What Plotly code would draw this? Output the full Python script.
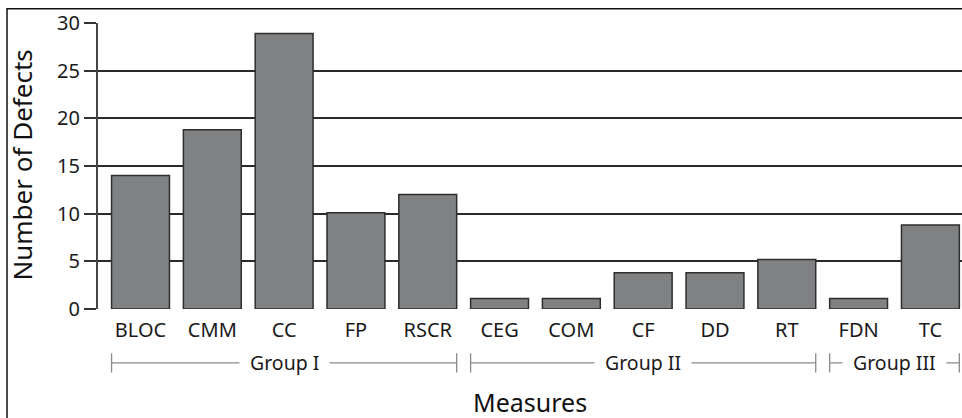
import plotly.graph_objects as go

# Defect counts per measure
measures = ["BLOC", "CMM", "CC", "FP", "RSCR", "CEG", "COM", "CF", "DD", "RT", "FDN", "TC"]
defects = [14.0, 18.8, 28.9, 10.1, 12.0, 1.1, 1.1, 3.8, 3.8, 5.2, 1.1, 8.8]

# Measure groups: (label, first index, last index)
group_names = ["Group I", "Group II", "Group III"]
group_first = [0, 5, 10]
group_last = [4, 9, 11]

y_ticks = [0, 5, 10, 15, 20, 25, 30]

FONT = "Noto Sans"
BAR_GAP = 0.194
half_bar = (1 - BAR_GAP) / 2

fig = go.Figure(
    go.Bar(
        x=list(range(len(measures))),
        y=defects,
        marker=dict(color="#808183", line=dict(color="#2e2e2e", width=1.5)),
        width=1 - BAR_GAP,
        hoverinfo="x+y",
    )
)

shapes = []
annotations = []

# Outer frame around the figure
shapes.append(dict(type="rect", xref="paper", yref="paper",
                   x0=-0.1053, x1=1.02, y0=-0.40, y1=1.05,
                   line=dict(color="#111111", width=1.5), fillcolor="rgba(0,0,0,0)",
                   layer="below"))

# Group brackets beneath the category labels
y_line = -0.1887
y_tick_top = -0.155
y_tick_bot = -0.222
bracket_color = "#8a8a8a"
for name, a, b in zip(group_names, group_first, group_last):
    xa = a - half_bar
    xb = b + half_bar
    shapes.append(dict(type="line", xref="x", yref="paper", x0=xa, x1=xb, y0=y_line, y1=y_line,
                       line=dict(color=bracket_color, width=1.3)))
    for xe in (xa, xb):
        shapes.append(dict(type="line", xref="x", yref="paper", x0=xe, x1=xe,
                           y0=y_tick_bot, y1=y_tick_top,
                           line=dict(color=bracket_color, width=1.3)))
    annotations.append(dict(x=(xa + xb) / 2, y=y_line, xref="x", yref="paper",
                            text=name, showarrow=False, bgcolor="white", borderpad=10,
                            font=dict(family=FONT, size=19.5, color="#1a1a1a"),
                            xanchor="center", yanchor="middle"))

# Axis titles
annotations.append(dict(x=0.5, y=-0.3267, xref="paper", yref="paper", text="Measures",
                        showarrow=False, font=dict(family=FONT, size=25, color="#111111"),
                        xanchor="center", yanchor="middle"))
annotations.append(dict(x=-0.088, y=0.505, xref="paper", yref="paper", text="Number of Defects",
                        showarrow=False, textangle=-90,
                        font=dict(family=FONT, size=26, color="#111111"),
                        xanchor="center", yanchor="middle"))

fig.update_layout(
    width=962, height=418,
    margin=dict(l=98, r=0, t=23, b=108.5),
    paper_bgcolor="white", plot_bgcolor="white",
    showlegend=False,
    bargap=BAR_GAP,
    shapes=shapes,
    annotations=annotations,
    font=dict(family=FONT, color="#1a1a1a"),
)

fig.update_xaxes(
    range=[-0.592, 11.44],
    tickmode="array",
    tickvals=list(range(len(measures))),
    ticktext=measures,
    ticks="",
    showgrid=False,
    zeroline=False,
    showline=False,
    tickfont=dict(family=FONT, size=20, color="#1a1a1a"),
    ticklabelstandoff=7,
    fixedrange=True,
)

fig.update_yaxes(
    range=[0, 30],
    tickmode="array",
    tickvals=y_ticks,
    ticks="outside",
    ticklen=12,
    tickwidth=1.5,
    tickcolor="#333333",
    showgrid=True,
    gridcolor="#2a2a2a",
    gridwidth=1.5,
    zeroline=False,
    showline=True,
    linecolor="#444444",
    linewidth=2,
    tickfont=dict(family=FONT, size=20, color="#1a1a1a"),
    fixedrange=True,
)

fig.write_html("out.html", config={"displayModeBar": False})
